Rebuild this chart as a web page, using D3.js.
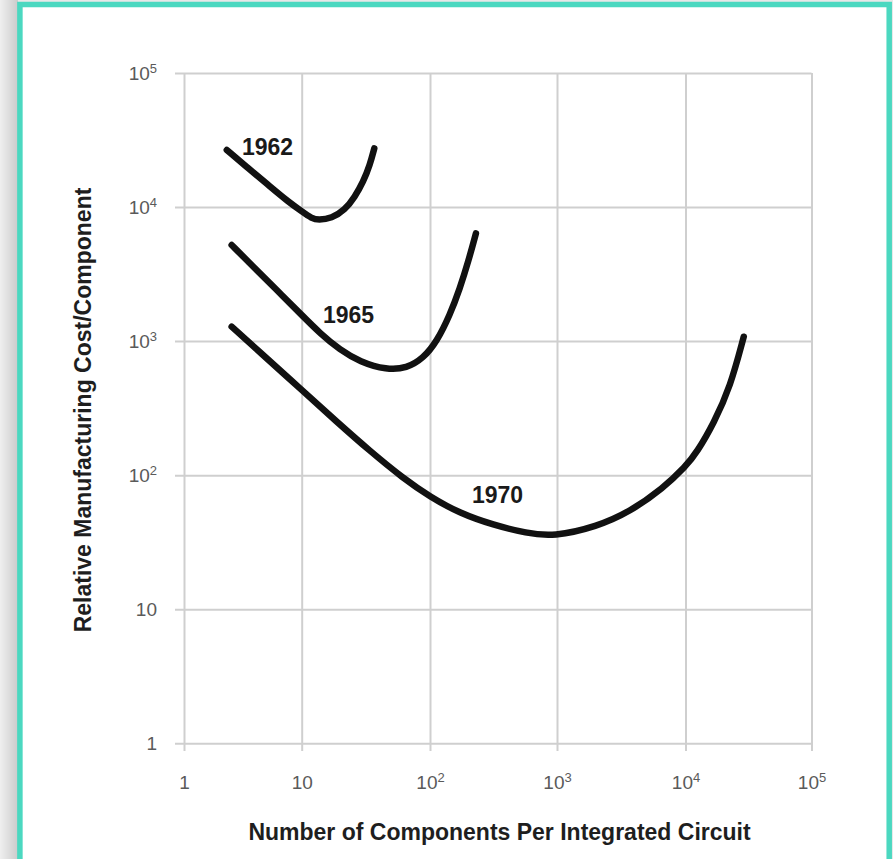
<!DOCTYPE html>
<html>
<head>
<meta charset="utf-8">
<script src="https://cdn.jsdelivr.net/npm/d3@7.9.0/dist/d3.min.js"></script>
<style>
  body { margin: 0; background: #e8e8e8; }
  svg { display: block; font-family: 'Liberation Sans', Arial, sans-serif; }
  .grid line { stroke: #cfcfcf; stroke-width: 2; }
  .grid text { fill: #5a5a5a; font-size: 19px; }
</style>
</head>
<body>
<svg id="chart" width="893" height="859"></svg>
<script>
// decade ticks on both axes
const xTicks = [1, 10, 100, 1e3, 1e4, 1e5];
const yTicks = [1, 10, 100, 1e3, 1e4, 1e5];

// curves (components, relative cost)
const x1962 = [2.31, 3.52, 5.20, 7.69, 10.1, 11.97, 13.5, 17.1, 21.7, 26.0, 30.2, 34.0, 36.8];
const y1962 = [26650, 19450, 14610, 10960, 9230, 8240, 8000, 8240, 9510, 11950, 15450, 20600, 27400];

const x1965 = [2.54, 3.88, 6.14, 10, 13.9, 19.9, 28.4, 46.0, 65.8, 88.7, 113, 143.5, 172, 200, 230];
const y1965 = [5210, 3590, 2405, 1566, 1143, 859, 702, 609, 627, 745, 990, 1566, 2477, 3910, 6370];

const x1970 = [2.54, 4.42, 10, 18.7, 34.0, 61.9, 100, 172, 315, 577, 935, 2040, 3700, 6710, 10000, 12370, 16760, 22700, 29000];
const y1970 = [1282, 827, 432, 251, 151.5, 94.8, 69.1, 51.9, 42.5, 36.9, 34.8, 41.3, 53.4, 80.2, 115.7, 149, 244, 457, 1079];

const years = ['1962', '1965', '1970'];
const labelX = [5.12, 23.2, 340];
const labelY = [28050, 1566, 71.1];

const svg = d3.select('#chart');
const W = 893, H = 859;

// page frame with soft shadow on the left
const defs = svg.append('defs');
const grad = defs.append('linearGradient').attr('id', 'shade');
grad.append('stop').attr('offset', '0%').attr('stop-color', '#efefef');
grad.append('stop').attr('offset', '100%').attr('stop-color', '#cbcbcb');

svg.append('rect').attr('width', W).attr('height', H).attr('fill', '#e8e8e8');
svg.append('rect').attr('x', 0).attr('y', 0).attr('width', 18).attr('height', H).attr('fill', 'url(#shade)');
svg.append('rect')
  .attr('x', 19.9).attr('y', 4.5)
  .attr('width', 869.3).attr('height', 900)
  .attr('fill', '#fff')
  .attr('stroke', '#4bd8c0')
  .attr('stroke-width', 5.5);

// the printed grid is not quite even, so the x scale is piecewise
const x = d3.scaleLog()
  .domain(xTicks)
  .range([184, 301.7, 430, 557, 685.5, 811.5]);
const y = d3.scaleLog()
  .domain([1, 1e5])
  .range([743.3, 73]);

function tickLabel(sel) {
  sel.each(function(d) {
    const t = d3.select(this).text(null);
    const e = Math.round(Math.log10(d));
    if (e === 0) { t.append('tspan').text('1'); return; }
    t.append('tspan').text('10');
    if (e > 1) {
      t.append('tspan').attr('dy', -7).attr('font-size', 13).text(e);
    }
  });
}

const xAxis = svg.append('g')
  .attr('class', 'grid')
  .attr('transform', 'translate(0,751)')
  .call(d3.axisBottom(x).tickValues(xTicks).tickSize(-(751 - 73)).tickPadding(0));
xAxis.select('.domain').remove();
xAxis.selectAll('text')
  .attr('y', 38).attr('dy', 0)
  .call(tickLabel);

const yAxis = svg.append('g')
  .attr('class', 'grid')
  .attr('transform', 'translate(175,0)')
  .call(d3.axisLeft(y).tickValues(yTicks).tickSize(-(811.5 - 175)).tickPadding(0));
yAxis.select('.domain').remove();
yAxis.selectAll('text')
  .attr('x', -18).attr('dy', 6)
  .call(tickLabel);

// cost curves
const line = d3.line()
  .x(d => x(d[0]))
  .y(d => y(d[1]))
  .curve(d3.curveBasis);

const series = [
  d3.zip(x1962, y1962),
  d3.zip(x1965, y1965),
  d3.zip(x1970, y1970)
];

svg.append('g')
  .selectAll('path')
  .data(series)
  .join('path')
    .attr('d', line)
    .attr('fill', 'none')
    .attr('stroke', '#111')
    .attr('stroke-width', 6.5)
    .attr('stroke-linecap', 'round');

svg.append('g')
  .selectAll('text')
  .data(years)
  .join('text')
    .attr('x', (d, i) => x(labelX[i]))
    .attr('y', (d, i) => y(labelY[i]))
    .attr('dy', 8)
    .attr('text-anchor', 'middle')
    .attr('font-size', 23)
    .attr('font-weight', 'bold')
    .attr('fill', '#1a1a1a')
    .text(d => d);

// axis titles
svg.append('text')
  .attr('x', 499.5)
  .attr('y', 840)
  .attr('text-anchor', 'middle')
  .attr('font-size', 23)
  .attr('font-weight', 'bold')
  .attr('fill', '#1e1e1e')
  .text('Number of Components Per Integrated Circuit');

svg.append('text')
  .attr('transform', 'translate(91,410) rotate(-90)')
  .attr('text-anchor', 'middle')
  .attr('font-size', 23)
  .attr('font-weight', 'bold')
  .attr('fill', '#1e1e1e')
  .text('Relative Manufacturing Cost/Component');
</script>
</body>
</html>
